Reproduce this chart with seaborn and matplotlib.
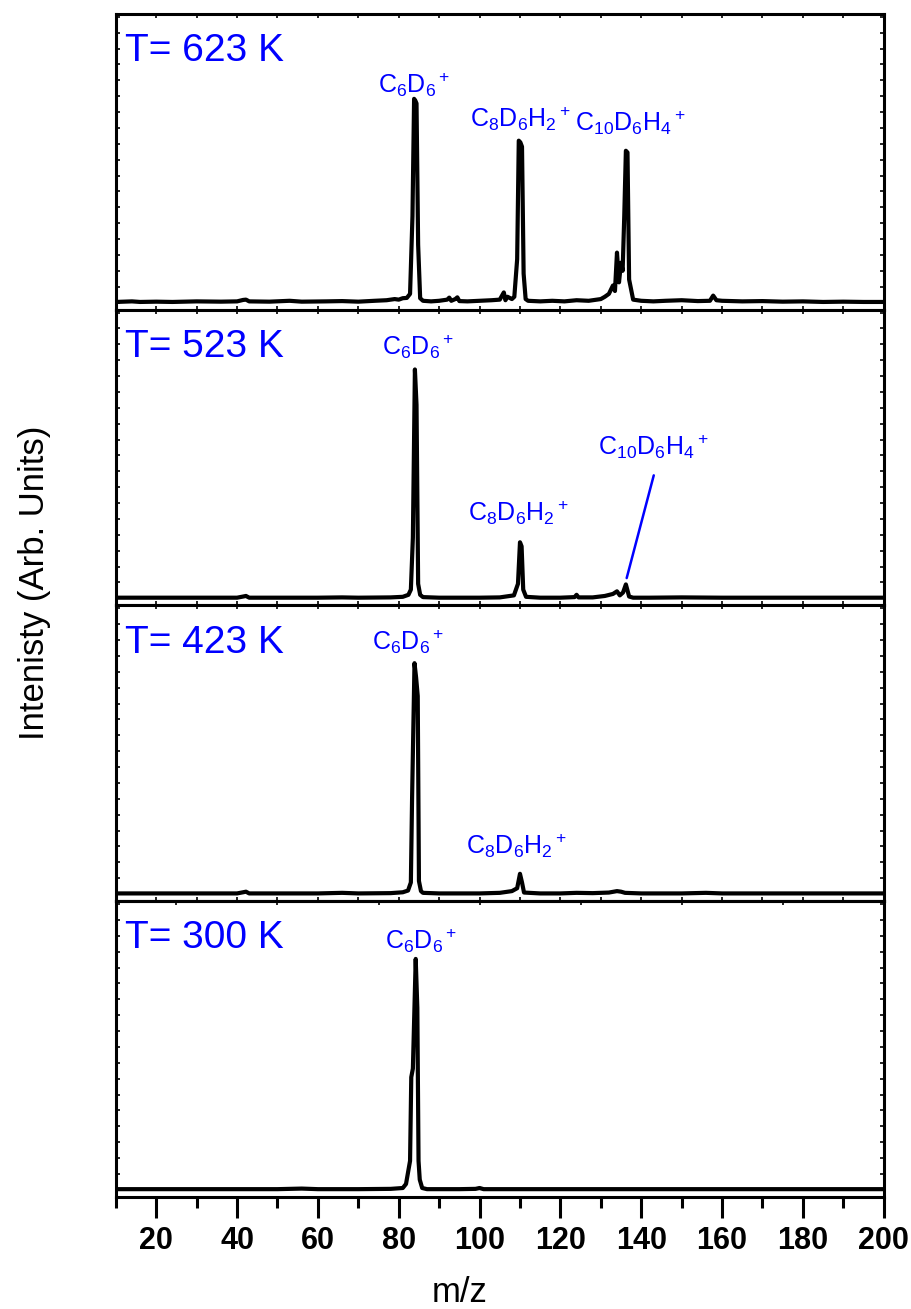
import numpy as np
import pandas as pd
import matplotlib
matplotlib.use("Agg")
import matplotlib.pyplot as plt
from matplotlib.ticker import MultipleLocator, FixedLocator
import seaborn as sns

# ---------------- data ----------------
temps = ["T= 623 K", "T= 523 K", "T= 423 K", "T= 300 K"]

mz_623 = [10, 14, 16, 20, 24, 30, 36, 40, 41.5, 42.2, 43, 48, 53, 56, 62, 66, 70, 74, 77,
          79, 80, 81, 82, 82.8, 83.4, 83.8, 84.1, 84.4, 84.8, 85.3, 86, 88, 90, 92, 92.5,
          93, 94, 94.5, 95, 97, 100, 103, 105, 106, 106.4, 106.9, 108, 108.6, 109.3, 109.7,
          110.1, 110.5, 110.9, 111.4, 112, 115, 118, 121, 124, 127, 130, 131, 132, 133,
          133.5, 134, 134.5, 135, 135.4, 135.8, 136.2, 136.6, 137, 137.5, 138, 140, 143,
          146, 150, 154, 157, 157.8, 158.6, 160, 165, 170, 175, 180, 185, 190, 195, 200]
int_623 = [0.002, 0.004, 0.002, 0.003, 0.002, 0.004, 0.003, 0.004, 0.009, 0.010, 0.004,
           0.003, 0.006, 0.003, 0.004, 0.005, 0.003, 0.006, 0.008, 0.012, 0.010, 0.015,
           0.016, 0.030, 0.300, 0.706, 0.700, 0.690, 0.200, 0.015, 0.006, 0.004, 0.006,
           0.010, 0.017, 0.006, 0.012, 0.018, 0.005, 0.004, 0.006, 0.008, 0.010, 0.035,
           0.008, 0.020, 0.012, 0.020, 0.150, 0.561, 0.555, 0.540, 0.100, 0.012, 0.006,
           0.004, 0.006, 0.004, 0.008, 0.006, 0.012, 0.020, 0.030, 0.059, 0.040, 0.173,
           0.070, 0.138, 0.110, 0.300, 0.526, 0.520, 0.080, 0.045, 0.010, 0.006, 0.004,
           0.006, 0.008, 0.005, 0.006, 0.024, 0.008, 0.006, 0.004, 0.005, 0.003, 0.004,
           0.002, 0.003, 0.002, 0.002]

mz_523 = [10, 20, 30, 40, 41.5, 42.2, 43, 50, 60, 66, 70, 78, 81, 82.4, 83.0, 83.5, 84.0,
          84.4, 84.8, 85.3, 86, 90, 100, 105, 108.5, 109.5, 110.0, 110.4, 110.8, 111.5,
          115, 120, 123.5, 124, 124.5, 128, 131, 133, 134, 134.7, 135.5, 136.2, 137, 138,
          142, 150, 160, 170, 180, 190, 200]
int_523 = [0.002, 0.002, 0.002, 0.002, 0.006, 0.008, 0.002, 0.002, 0.002, 0.003, 0.002,
           0.003, 0.005, 0.012, 0.030, 0.210, 0.793, 0.670, 0.050, 0.012, 0.004, 0.002,
           0.002, 0.003, 0.010, 0.050, 0.194, 0.180, 0.030, 0.005, 0.002, 0.002, 0.004,
           0.012, 0.003, 0.003, 0.008, 0.015, 0.024, 0.010, 0.020, 0.048, 0.006, 0.002,
           0.002, 0.003, 0.002, 0.002, 0.002, 0.002, 0.002]

mz_423 = [10, 20, 30, 40, 41.5, 42.2, 43, 50, 60, 66, 70, 78, 81, 82.3, 83.0, 83.3, 83.9,
          84.3, 84.7, 85.0, 85.5, 86, 90, 100, 105, 108, 109.3, 110.0, 110.5, 111, 115,
          120, 124, 128, 132, 134, 135, 136, 140, 150, 156, 160, 170, 180, 190, 200]
int_423 = [0.002, 0.002, 0.002, 0.002, 0.006, 0.008, 0.002, 0.002, 0.002, 0.004, 0.002,
           0.003, 0.006, 0.012, 0.040, 0.330, 0.800, 0.750, 0.686, 0.045, 0.010, 0.004,
           0.002, 0.002, 0.004, 0.010, 0.020, 0.070, 0.040, 0.005, 0.002, 0.002, 0.004,
           0.003, 0.005, 0.010, 0.008, 0.004, 0.002, 0.002, 0.004, 0.002, 0.002, 0.002,
           0.002, 0.002]

mz_300 = [10, 20, 30, 40, 50, 56, 60, 70, 78, 81, 81.8, 82.3, 82.8, 83.1, 83.5, 84.2, 84.6,
          84.9, 85.2, 85.8, 87, 90, 95, 99, 100, 101, 110, 120, 140, 160, 180, 200]
int_300 = [0.002, 0.002, 0.002, 0.002, 0.002, 0.004, 0.002, 0.002, 0.003, 0.006, 0.020,
           0.060, 0.100, 0.390, 0.420, 0.800, 0.630, 0.100, 0.035, 0.006, 0.002, 0.002,
           0.002, 0.003, 0.006, 0.002, 0.002, 0.002, 0.002, 0.002, 0.002, 0.002]

spectra_mz = [mz_623, mz_523, mz_423, mz_300]
spectra_int = [int_623, int_523, int_423, int_300]

# peak labels: (text, m/z, intensity) per panel
labels_623 = [(r"C$_6$D$_6$$^+$", 83.7, 0.755),
              (r"C$_8$D$_6$H$_2$$^+$", 110.2, 0.637),
              (r"C$_{10}$D$_6$H$_4$$^+$", 137.4, 0.623)]
labels_523 = [(r"C$_6$D$_6$$^+$", 84.7, 0.873),
              (r"C$_8$D$_6$H$_2$$^+$", 109.7, 0.298),
              (r"C$_{10}$D$_6$H$_4$$^+$", 142.9, 0.526)]
labels_423 = [(r"C$_6$D$_6$$^+$", 82.2, 0.873),
              (r"C$_8$D$_6$H$_2$$^+$", 109.0, 0.166)]
labels_300 = [(r"C$_6$D$_6$$^+$", 85.5, 0.862)]
panel_labels = [labels_623, labels_523, labels_423, labels_300]

# pointer line in the 523 K panel (m/z, intensity)
pointer_mz = [136.4, 143.1]
pointer_int = [0.07, 0.426]

xticks_major = [20, 40, 60, 80, 100, 120, 140, 160, 180, 200]

# ---------------- style ----------------
sns.set_style("ticks")
plt.rcParams["font.family"] = ["Liberation Sans", "DejaVu Sans"]
plt.rcParams["mathtext.fontset"] = "custom"
plt.rcParams["mathtext.rm"] = "Liberation Sans"
plt.rcParams["mathtext.it"] = "Liberation Sans:italic"
plt.rcParams["mathtext.bf"] = "Liberation Sans:bold"
for key in ["axes.edgecolor", "text.color", "xtick.color", "ytick.color",
            "axes.labelcolor"]:
    plt.rcParams[key] = "black"

BLUE = "#0000ff"

fig, axes = plt.subplots(4, 1, figsize=(9.12, 13.09), dpi=100, sharex=True)
fig.subplots_adjust(left=0.127, right=0.969, bottom=0.0856, top=0.9893, hspace=0)

for i, ax in enumerate(axes):
    df = pd.DataFrame({"mz": spectra_mz[i], "intensity": spectra_int[i]})
    sns.lineplot(data=df, x="mz", y="intensity", ax=ax, color="black",
                 linewidth=3.0, estimator=None, sort=False)
    ax.set_xlim(10, 200)
    ax.set_ylim(-0.025, 1.0)
    ax.set_xlabel("")
    ax.set_ylabel("")
    for sp in ax.spines.values():
        sp.set_linewidth(2.2)
        sp.set_visible(True)
        sp.set_color("black")
    ax.yaxis.set_major_locator(MultipleLocator(0.055))
    ax.tick_params(axis="y", which="both", left=True, right=True, direction="in",
                   length=3, width=1.2, labelleft=False)
    ax.text(0.012, 0.935, temps[i], transform=ax.transAxes, color=BLUE,
            fontsize=28, ha="left", va="top")
    for txt, xm, yi in panel_labels[i]:
        ax.text(xm, yi, txt, color=BLUE, fontsize=18, ha="center", va="center")
    if i < 3:
        ax.xaxis.set_major_locator(MultipleLocator(25))
        ax.tick_params(axis="x", which="both", top=True, bottom=True, direction="in",
                       length=3, width=1.2, labelbottom=False)

axes[1].plot(pointer_mz, pointer_int, color=BLUE, linewidth=1.8)

axb = axes[3]
axb.xaxis.set_major_locator(FixedLocator(xticks_major))
axb.xaxis.set_minor_locator(MultipleLocator(10))
axb.set_xticks(xticks_major)
axb.set_xticklabels([str(v) for v in xticks_major])
axb.tick_params(axis="x", which="major", direction="out", length=15, width=2.2,
                bottom=True, top=False, labelsize=22, pad=6)
axb.tick_params(axis="x", which="minor", direction="out", length=8, width=2.2,
                bottom=True, top=False)
for lab in axb.get_xticklabels():
    lab.set_fontfamily(["Liberation Sans Narrow", "Liberation Sans"])
    lab.set_fontweight("bold")
sec = axb.secondary_xaxis("top")
sec.xaxis.set_major_locator(MultipleLocator(25))
sec.tick_params(axis="x", direction="in", length=3, width=1.2, labeltop=False)
sec.spines["top"].set_linewidth(2.2)

fig.text(35 / 912, 1 - 583 / 1309, "Intenisty (Arb. Units)", rotation=90,
         fontsize=25, ha="center", va="center")
fig.text(460 / 912, 1 - 1292 / 1309, "m/z", fontsize=25, ha="center", va="center")

fig.savefig("out.png", dpi=100)
